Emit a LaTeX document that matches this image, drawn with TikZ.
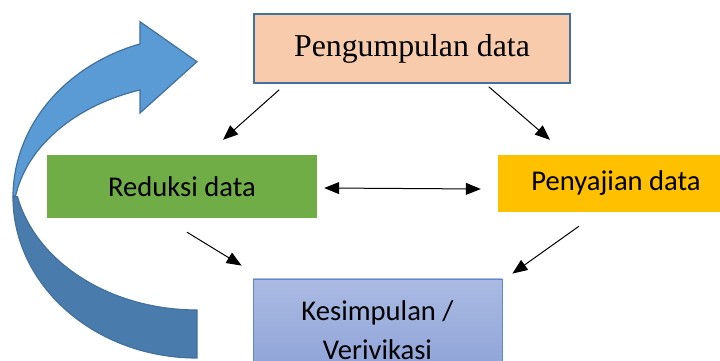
\documentclass[tikz,border=0pt]{standalone}
\usepackage{fontspec}
\setmainfont{Liberation Serif}
\newfontfamily\calibri{Carlito}
\usetikzlibrary{arrows.meta}

\definecolor{peach}{HTML}{F8CBAD}
\definecolor{edgeblue}{HTML}{41719C}
\definecolor{leafgreen}{HTML}{70AD47}
\definecolor{gold}{HTML}{FFC000}
\definecolor{arrowlight}{HTML}{5B9BD5}
\definecolor{arrowdark}{HTML}{497BAC}
\definecolor{kestop}{HTML}{AABAE2}
\definecolor{kesbot}{HTML}{8CA1D7}
\definecolor{kesedge}{HTML}{5F86CF}

\begin{document}
\begin{tikzpicture}[x=1pt, y=1pt, >={Triangle[length=15pt,width=12pt]},
    stage/.style={inner sep=0pt, font=\calibri\fontsize{28.6}{39}\selectfont},
    link/.style={line width=1pt}]
    \useasboundingbox (0,0) rectangle (720,361);

    % curved return arrow (back part, then front part)
    \filldraw[fill=arrowdark, draw=edgeblue, line width=1.2pt]
        (13,164) arc[start angle=180, end angle=270, x radius=184, y radius=161]
        -- (197,51)
        arc[start angle=270, end angle=192.6, x radius=184, y radius=145]
        -- cycle;
    \filldraw[fill=arrowlight, draw=edgeblue, line width=1.2pt]
        (13,164) arc[start angle=180, end angle=108.05, x radius=184, y radius=161]
        -- (140,339.3) -- (197,299.3) -- (140,248) -- (140,271)
        arc[start angle=108.05, end angle=170.2, x radius=184, y radius=135]
        -- cycle;

    \node (peng) at (412,312.5) [fill=peach, draw=edgeblue, line width=1.5pt,
        minimum width=316, minimum height=69, inner sep=0pt,
        font=\fontsize{31.8}{38}\selectfont] {Pengumpulan data};
    \node (reduksi) at (182,174.5) [stage, fill=leafgreen,
        minimum width=270, minimum height=63] {Reduksi data};
    \node (sajian) at (616,177.5) [stage, fill=gold,
        minimum width=236, minimum height=57] {Penyajian data};
    \node (simpul) at (377.5,31.25) [stage, top color=kestop, bottom color=kesbot,
        draw=kesedge, line width=0.8pt, align=center,
        minimum width=249, minimum height=101.5] {Kesimpulan /\\Verivikasi};

    \draw[->, link] ([xshift=26pt,yshift=-6pt]peng.south west)
        -- ([xshift=41pt,yshift=15pt]reduksi.north);
    \draw[->, link] ([xshift=-82pt,yshift=-3pt]peng.south east)
        -- ([xshift=-66pt,yshift=15pt]sajian.north);
    \draw[<->, link] ([xshift=7pt,yshift=-1.5pt]reduksi.east)
        -- ([xshift=-17pt,yshift=-5.5pt]sajian.west);
    \draw[->, link] ([xshift=5pt,yshift=-14pt]reduksi.south)
        -- ([xshift=-11pt,yshift=13pt]simpul.north west);
    \draw[->, link] ([xshift=-37pt,yshift=-14pt]sajian.south)
        -- ([xshift=10pt,yshift=5pt]simpul.north east);
\end{tikzpicture}
\end{document}
